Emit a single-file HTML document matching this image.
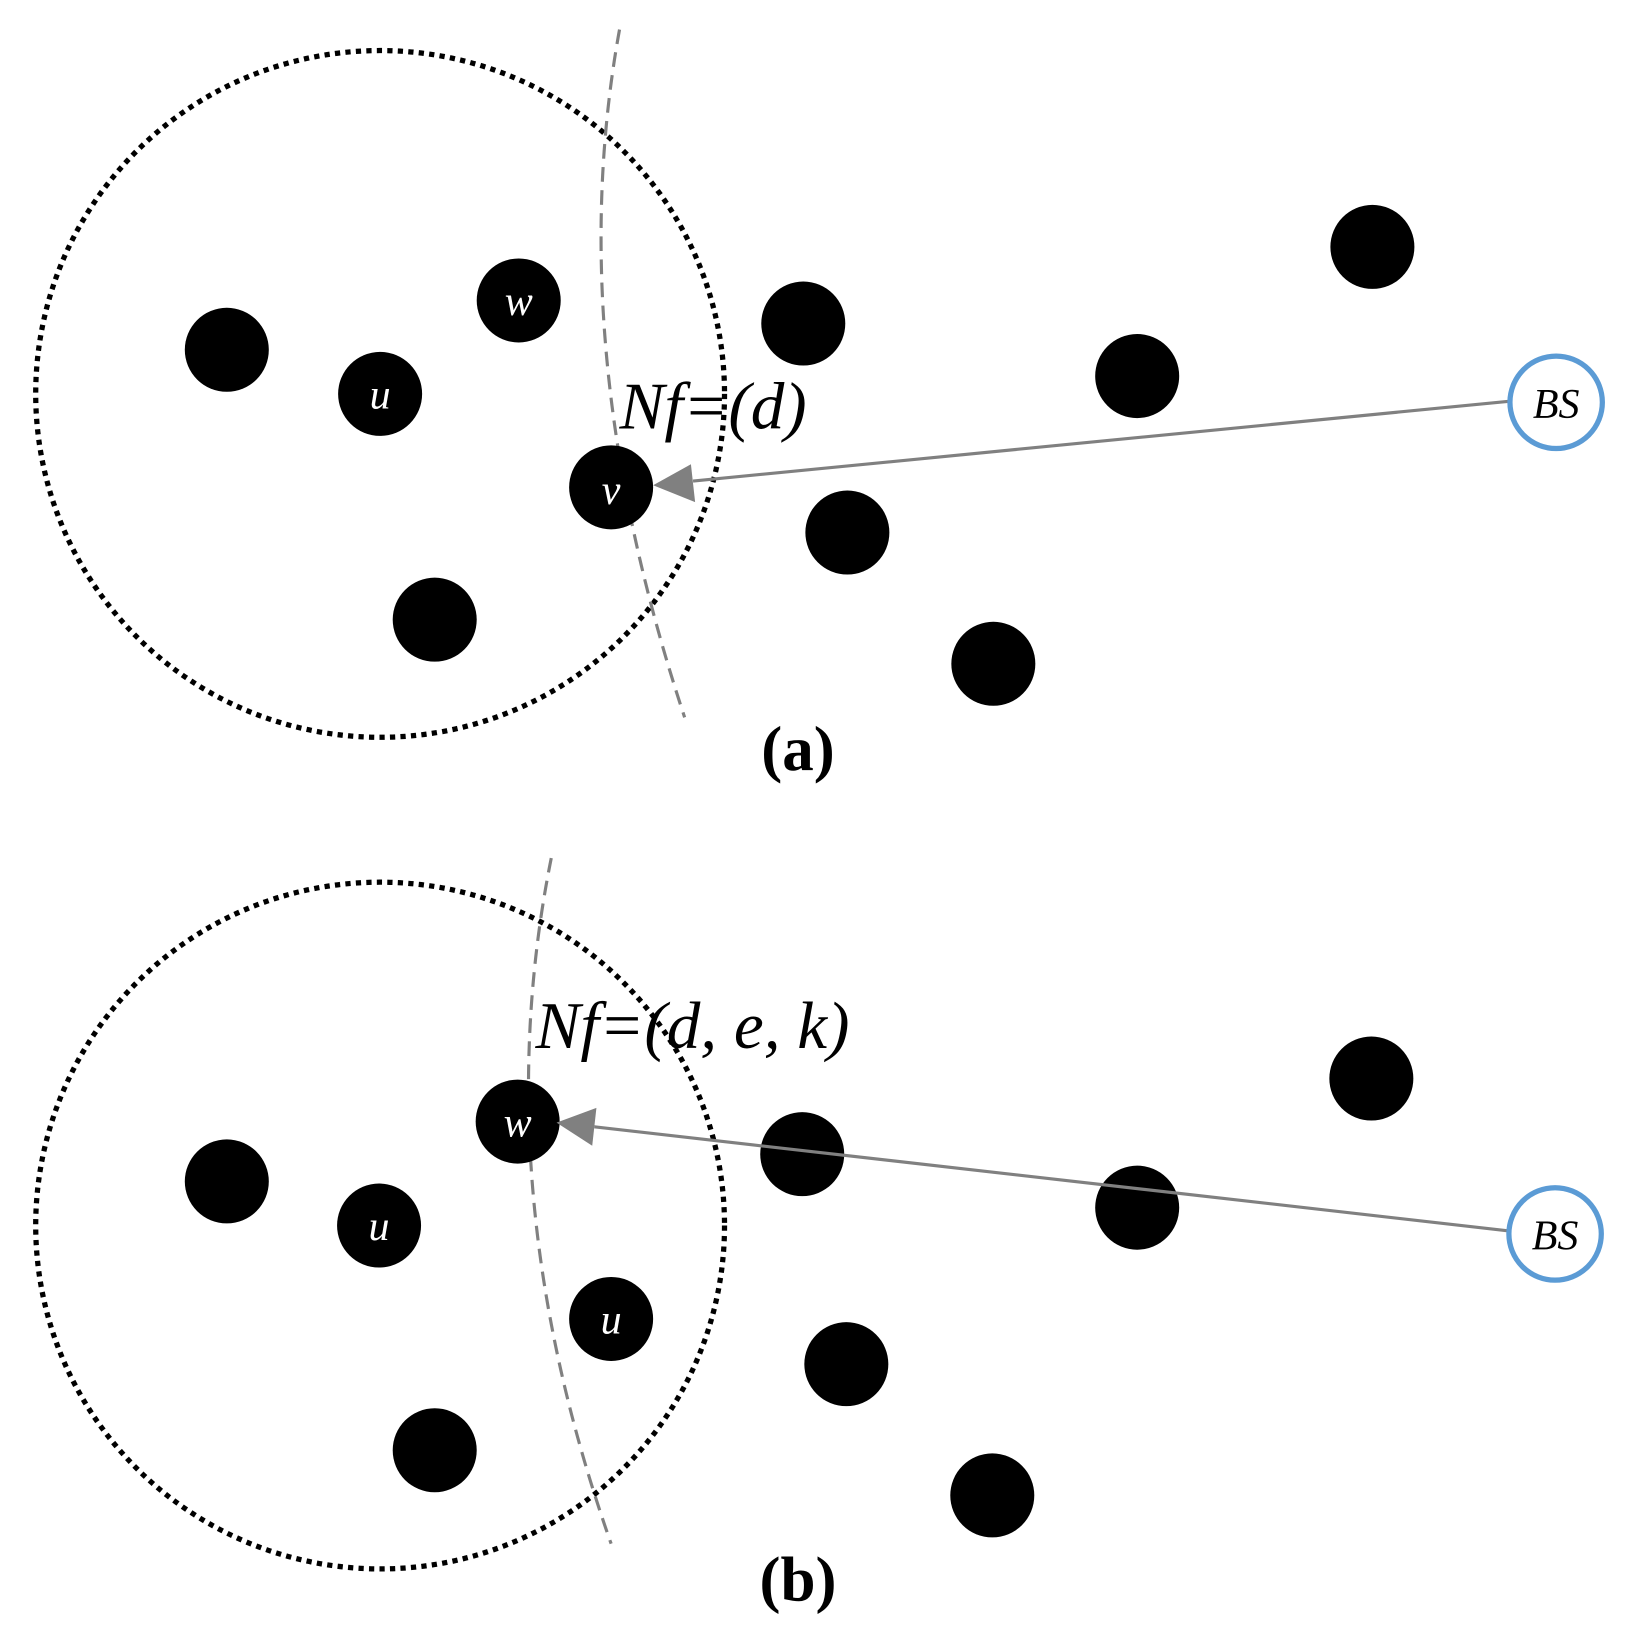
<!DOCTYPE html>
<html><head><meta charset="utf-8"><style>html,body{margin:0;padding:0;background:#fff}svg{display:block}</style></head>
<body>
<svg width="1637" height="1652" viewBox="0 0 1559 1573" xmlns="http://www.w3.org/2000/svg">
<defs>
<marker id="ah" markerWidth="10" markerHeight="10" refX="1" refY="5" orient="auto" markerUnits="userSpaceOnUse" viewBox="0 0 10 10">
</marker>
</defs>
<g font-family="Liberation Serif, serif">
<!-- (a) -->
<ellipse cx="362" cy="375" rx="328" ry="327" fill="none" stroke="#000" stroke-width="5" stroke-dasharray="5 5"/>
<path d="M590 28 Q535 330 652 683" fill="none" stroke="#808080" stroke-width="3" stroke-dasharray="14 8"/>
<g fill="#000">
<circle cx="216" cy="333" r="40"/><circle cx="362" cy="375" r="40"/><circle cx="494" cy="286" r="40"/>
<circle cx="582" cy="464" r="40"/><circle cx="414" cy="590" r="40"/><circle cx="765" cy="308" r="40"/>
<circle cx="1083" cy="358" r="40"/><circle cx="1307" cy="235" r="40"/><circle cx="807" cy="507" r="40"/>
<circle cx="946" cy="632" r="40"/>
</g>
<g fill="#fff" font-style="italic" font-size="40" text-anchor="middle">
<text x="362" y="389">u</text><text x="494" y="300">w</text><text x="582" y="480">v</text>
</g>
<line x1="1437" y1="382" x2="660" y2="458" stroke="#808080" stroke-width="3"/>
<polygon points="622,462 658,442 662,478" fill="#808080"/>
<circle cx="1482" cy="383" r="44" fill="#fff" stroke="#5b9bd5" stroke-width="5"/>
<text x="1482" y="398" font-style="italic" font-size="40" text-anchor="middle">BS</text>
<text x="590" y="408" font-style="italic" font-size="64">Nf=(d)</text>
<text x="760" y="733" font-weight="bold" font-size="60" text-anchor="middle">(a)</text>
<!-- (b) -->
<ellipse cx="362" cy="1167" rx="328" ry="327" fill="none" stroke="#000" stroke-width="5" stroke-dasharray="5 5"/>
<path d="M525 817 Q462 1130 582 1470" fill="none" stroke="#808080" stroke-width="3" stroke-dasharray="14 8"/>
<g fill="#000">
<circle cx="216" cy="1125" r="40"/><circle cx="361" cy="1167" r="40"/><circle cx="493" cy="1068" r="40"/>
<circle cx="582" cy="1256" r="40"/><circle cx="414" cy="1381" r="40"/><circle cx="764" cy="1099" r="40"/>
<circle cx="1083" cy="1150" r="40"/><circle cx="1306" cy="1027" r="40"/><circle cx="806" cy="1299" r="40"/>
<circle cx="945" cy="1424" r="40"/>
</g>
<g fill="#fff" font-style="italic" font-size="40" text-anchor="middle">
<text x="361" y="1181">u</text><text x="493" y="1082">w</text><text x="582" y="1270">u</text>
</g>
<line x1="1436" y1="1172" x2="566" y2="1073" stroke="#808080" stroke-width="3"/>
<polygon points="530,1069 568,1055 564,1091" fill="#808080"/>
<circle cx="1481" cy="1175" r="44" fill="#fff" stroke="#5b9bd5" stroke-width="5"/>
<text x="1481" y="1190" font-style="italic" font-size="40" text-anchor="middle">BS</text>
<text x="510" y="998" font-style="italic" font-size="64">Nf=(d, e, k)</text>
<text x="760" y="1524" font-weight="bold" font-size="60" text-anchor="middle">(b)</text>
</g>
</svg>
</body></html>
